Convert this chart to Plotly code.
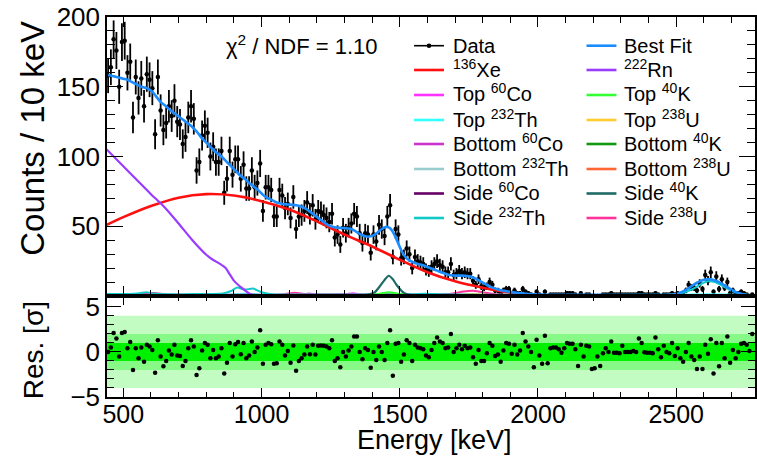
import plotly.graph_objects as go
import math

# ---------------- data ----------------
BIN_LO, BIN_W = 440, 10

counts = [158, 164, 184, 176, 150, 182, 183, 160, 168, 128,
          157, 142, 156, 136, 159, 155, 149, 116, 157, 133,
          119, 124, 136, 129, 140, 125, 123, 109, 114, 128,
          136, 127, 90, 96, 115, 122, 117, 100, 107, 96,
          96, 104, 74, 84, 104, 87, 98, 98, 84, 94,
          77, 77, 90, 78, 81, 95, 61, 78, 78, 76,
          57, 57, 76, 72, 63, 66, 56, 71, 48, 57,
          58, 61, 67, 59, 65, 55, 61, 60, 58, 56,
          53, 59, 42, 44, 37, 49, 45, 49, 52, 59,
          57, 45, 38, 45, 44, 31, 44, 39, 51, 48,
          43, 57, 65, 28, 48, 44, 27, 28, 34, 30,
          20, 28, 25,
          24, 23, 19, 18, 21, 23, 25, 22, 21, 17,
          17, 23, 15, 16, 18, 16, 17, 16, 16, 11,
          8, 12, 7, 6, 7, 10, 8, 4, 4, 2,
          4, 5, 5, 2, 4, 2, 2, 5, 3, 2,
          1, 0, 3, 1, 0, 3, 0, 1, 1, 1,
          1, 1, 1, 2, 2, 2, 1, 0, 2, 0,
          1, 1, 0, 0, 0, 0, 1, 1, 1, 2,
          1, 1, 1, 1, 1, 1, 1, 1, 1, 2,
          2, 1, 1, 1, 1, 2, 1, 0, 1, 1,
          1, 2, 1, 2, 1, 1, 4, 8, 6, 6,
          4, 9, 5, 15, 11, 17, 3, 14, 5, 12,
          6, 10, 2, 4, 2, 2, 3, 2, 1, 0,
          1]

residuals = [0, 0.5, 2.1, 1.5, -0.5, 2.1, 2.2, 0.4, 1.1, -2,
             0.4, -0.7, 0.5, -1.1, 0.8, 0.6, 0.2, -2.3, 1.3, -0.5,
             -1.6, -1, 0.15, -0.3, 0.8, -0.4, -0.45, -1.55, -1, 0.4,
             1.3, 0.6, -2.55, -1.8, 0.15, 1, 0.8, -0.7, 0.2, -0.7,
             -0.5, 0.4, -2.4, -1.2, 1, -0.5, 0.85, 1.1, -0.25, 1,
             -0.7, -0.4, 1.15, 0, 0.5, 2.4, -1.3, 0.8, 1, 0.85,
             -1.3, -1.25, 1.15, 0.8, -0.4, 0.1, -1.2, 0.7, -2.1, -1,
             -0.7, -0.3, 0.6, -0.25, 0.8, -0.3, 0.67, 0.7, 0.67, 0.6,
             0.4, 1.3, -1, -0.7, -1.7, 0, -0.5, 0.15, 0.6, 1.7,
             1.7, 0, -0.8, 0.4, 0.2, -1.75, 0, -0.9, 0.6, 0,
             -0.9, 1, 2.4, -2.65, 0.9, 1, -1.1, -0.3, 1.3, 1,
             -1, 0.8, 0.5,
             0.4, 0.3, -0.4, -0.6, 0.2, 1, 1.6, 1.15, 1, 0.4,
             0.5, 2, 0, 0.4, 0.8, 0.3, 0.67, 0.4, 0.5, -0.6,
             -1.3, 0.2, -1, -1, -0.15, 1, 0.67, -0.45, -0.3, -1.1,
             0.15, 1, 0.9, -0.2, 0.8, -0.3, 0.15, 2.1, 1.15, 0.6,
             0, -1.7, 1.35, -0.4, -1.3, 1.8, -1.25, 0.4, 0.5, 0.5,
             0.3, -0.1, 0.4, 1, 0.9, 0.9, 0.3, -1.55, 0.8, -0.5,
             0.67, 0.6, -1.9, -1.8, -0.5, -1.55, -0.15, 0.4, 0, 1.15,
             -0.1, -0.1, -0.15, 0.67, 0, 0, 0, 0.1, 0, 1.5,
             1, -0.05, -0.1, -0.1, -0.15, 1.6, 0.3, -0.6, 0.67, 0,
             -0.15, 1, -0.45, 0.4, -0.7, -1.1, 0, 1, -0.5, -0.9,
             -1.9, -0.5, -1.9, 0.8, -0.2, 1.4, -2.4, 1, -1.6, 1,
             -0.7, 1.7, -1.2, 0.2, -0.7, 0, 0.9, 1, 0.8, 0.1,
             2]

best_fit = [158.5, 158, 157.5, 157, 156.5, 156, 155.5, 155, 154, 153,
            152, 151, 150, 149.5, 149, 148, 146.5, 144, 141.5, 139,
            137.5, 136, 134, 132.5, 131, 129.5, 128, 126.5, 125, 123.5,
            122, 120, 118, 115.5, 113, 111, 109, 107, 105, 103,
            101.5, 100, 98, 96, 94, 92, 90, 88, 86, 84.5,
            83, 81, 79.5, 78, 76.5, 74.5, 72.5, 71, 70, 69,
            68, 67, 66.5, 66, 65.8, 65.6, 65.5, 65.3, 65, 64.6,
            64, 63, 62, 60.5, 59, 57.5, 56, 54.5, 53, 51.5,
            50.5, 49.8, 49.3, 49, 48.8, 48.7, 48.6, 48.4, 48, 47,
            45.8, 44.5, 43.5, 42.8, 42.5, 42.8, 43.5, 44.8, 46.5, 48,
            49.2, 49.5, 48.5, 46, 42, 37.5, 33, 29.5, 27, 25.5,
            24.5, 23.8, 23, 22.5, 22, 21.2, 20.5, 19.7, 19, 18.2,
            17.4, 16.6, 15.9, 15.3, 14.9, 14.7, 14.6, 14.6, 14.6, 14.5,
            14.3, 13.9, 13.3, 12.4, 11.4, 10.2, 9, 7.9, 6.9, 6,
            5.3, 4.7, 4.2, 3.8, 3.4, 3.1, 2.8, 2.5, 2.2, 2,
            1.8, 1.6, 1.45, 1.3, 1.2, 1.1, 1.0, 0.95, 0.9, 0.85,
            0.8, 0.8, 0.8, 0.8, 0.8, 0.8, 0.8, 0.8, 0.8, 0.8,
            0.8, 0.8, 0.8, 0.8, 0.8, 0.78, 0.78, 0.78, 0.78, 0.78,
            0.76, 0.76, 0.75, 0.75, 0.75, 0.75, 0.74, 0.74, 0.74, 0.73,
            0.72, 0.72, 0.72, 0.71, 0.71, 0.71, 0.7, 0.7, 0.7, 0.7,
            0.7, 0.7, 0.72, 0.8, 0.9, 1.2, 1.7, 2.4, 3.3, 4.4,
            5.6, 7, 8.3, 9.5, 10.5, 11.3, 11.8, 12, 11.9, 11.5,
            10.8, 9.9, 8.8, 7.6, 6.3, 5.1, 4, 3, 2.2, 1.5,
            1, 0.6, 0.4, 0.25]

n_bins = min(len(counts), len(residuals), len(best_fit))
bin_centers = [BIN_LO + BIN_W / 2 + BIN_W * i for i in range(n_bins)]

xe136_E = [440, 500, 600, 700, 800, 900, 1000, 1100, 1200, 1300, 1400, 1500,
           1600, 1700, 1800, 1900, 2000, 2100, 2200, 2300]
xe136_v = [51, 56.5, 64.5, 70.5, 73, 72, 68, 62, 53.5, 44, 35.5, 26,
           17, 10.5, 5.9, 2.3, 0.6, 0.2, 0.05, 0]

rn222_E = [440, 500, 550, 600, 650, 700, 750, 800, 820, 850, 870, 885, 900,
           930, 960, 990, 1010]
rn222_v = [105, 93, 83, 73, 63.5, 52, 40, 29.6, 26.5, 23, 20, 15.5, 11,
           5.6, 1.3, 0.2, 0]

top_co60_E = [440, 1100, 1150, 1173, 1200, 1280, 1310, 1332, 1360, 1450, 2785]
top_co60_v = [0.7, 0.8, 1.3, 1.8, 1.1, 1.0, 1.5, 2.0, 1.0, 0.6, 0.2]
top_th232_E = [440, 560, 583, 610, 890, 911, 969, 1000, 1600, 2400, 2560, 2615, 2680, 2785]
top_th232_v = [0.8, 0.9, 1.3, 0.9, 1.0, 1.5, 1.5, 0.9, 0.8, 0.7, 1.0, 1.3, 1.0, 0.4]
bot_co60_E = [440, 1173, 1332, 1500, 2785]
bot_co60_v = [0.5, 0.8, 0.8, 0.4, 0.2]
bot_th232_E = [440, 1000, 2000, 2785]
bot_th232_v = [0.6, 0.5, 0.4, 0.2]
side_co60_E = [440, 1000, 1500, 2000, 2785]
side_co60_v = [0.45, 0.45, 0.4, 0.35, 0.3]
side_th232_E = [440, 520, 560, 583, 610, 660, 760, 860, 890, 911, 940, 969, 1000, 1040,
                1200, 1400, 1550, 1590, 1650, 1800, 2000, 2200, 2400, 2480, 2520,
                2560, 2590, 2615, 2640, 2670, 2710, 2750, 2785]
side_th232_v = [1.4, 1.4, 2.0, 2.7, 1.8, 1.3, 1.4, 1.8, 3.6, 6, 4.6, 5.3, 2.7, 1.3,
                1.1, 1.0, 1.2, 1.6, 1.2, 0.9, 0.8, 0.8, 0.9, 1.0, 2.2, 5, 8.5, 10.5,
                10, 7, 3, 1.0, 0.5]
top_k40_E = [440, 1380, 1410, 1440, 1460, 1480, 1510, 1540, 2785]
top_k40_v = [0.3, 0.4, 1.0, 2.2, 2.6, 2.2, 1.0, 0.4, 0.1]
top_u238_E = [440, 1700, 1764, 1830, 2785]
top_u238_v = [0.4, 0.6, 1.5, 0.5, 0.1]
bot_k40_E = [440, 1400, 1460, 1520, 2785]
bot_k40_v = [0.3, 0.4, 1.1, 0.4, 0.1]
bot_u238_E = [440, 1764, 2785]
bot_u238_v = [0.35, 0.5, 0.1]
side_k40_E = [440, 1200, 1360, 1390, 1410, 1430, 1445, 1460, 1475, 1490, 1510, 1530, 1560, 2785]
side_k40_v = [0.6, 0.6, 0.6, 1.2, 2.8, 7.5, 11.5, 14.5, 12, 7.5, 3, 1.1, 0.4, 0.1]
side_u238_E = [440, 560, 609, 660, 800, 1000, 1080, 1120, 1160, 1240, 1500, 1680,
               1730, 1764, 1800, 1860, 2000, 2204, 2300, 2785]
side_u238_v = [0.9, 1.1, 2.2, 1.1, 0.9, 0.9, 1.3, 2.4, 1.3, 1.1, 1.0, 1.5,
               3.2, 3.8, 2.7, 1.0, 0.6, 0.8, 0.5, 0.2]

chi2_text = "χ<sup>2</sup> / NDF = 1.10"

# ---------------- figure ----------------
W, H = 757, 458
L, R, T, B = 107, 757, 17, 397
SPLIT = 296
FONT = "Liberation Sans, Arial, Helvetica, sans-serif"


def px(x):
    return (x - L) / (R - L)


def py(y):
    return (B - y) / (B - T)


fig = go.Figure()

# data
errs = [math.sqrt(c) for c in counts[:n_bins]]
fig.add_trace(go.Scatter(
    x=bin_centers, y=counts[:n_bins], mode="markers",
    marker=dict(color="black", size=4.5),
    error_y=dict(type="data", array=errs, color="black", thickness=1.8, width=0),
    error_x=dict(type="constant", value=BIN_W / 2, color="black", thickness=1.2, width=0),
    xaxis="x", yaxis="y", showlegend=False))

components = [
    ("136Xe", xe136_E, xe136_v, "#ff1010", 2.6),
    ("Top 60Co", top_co60_E, top_co60_v, "#ff33ff", 2),
    ("Top 232Th", top_th232_E, top_th232_v, "#33ffff", 2),
    ("Bottom 60Co", bot_co60_E, bot_co60_v, "#cc33cc", 2),
    ("Bottom 232Th", bot_th232_E, bot_th232_v, "#99cccc", 2),
    ("Side 60Co", side_co60_E, side_co60_v, "#660066", 2),
    ("Top 238U", top_u238_E, top_u238_v, "#ffcc33", 2),
    ("Bottom 40K", bot_k40_E, bot_k40_v, "#119911", 2),
    ("Bottom 238U", bot_u238_E, bot_u238_v, "#ff6633", 2),
    ("Side 238U", side_u238_E, side_u238_v, "#ff3399", 2),
    ("Side 232Th", side_th232_E, side_th232_v, "#11c8c8", 2),
    ("222Rn", rn222_E, rn222_v, "#9a3cff", 2.2),
    ("Top 40K", top_k40_E, top_k40_v, "#33ff33", 2),
    ("Side 40K", side_k40_E, side_k40_v, "#1f6b66", 2.2),
]
for name, e, v, col, w in components:
    fig.add_trace(go.Scatter(x=e, y=v, mode="lines",
                             line=dict(color=col, width=w, shape="spline", smoothing=0.6),
                             xaxis="x", yaxis="y", showlegend=False, name=name))

fig.add_trace(go.Scatter(x=bin_centers, y=best_fit[:n_bins], mode="lines",
                         line=dict(color="#1a8cff", width=2.6, shape="spline", smoothing=0.5),
                         xaxis="x", yaxis="y", showlegend=False, name="Best Fit"))

# residuals
fig.add_trace(go.Scatter(x=bin_centers, y=residuals[:n_bins], mode="markers",
                         marker=dict(color="black", size=4.5),
                         xaxis="x2", yaxis="y2", showlegend=False))

XR = [441, 2785]
shapes = []
for half, col in [(4, "#c2fcc2"), (2, "#86f986"), (1, "#00f000")]:
    shapes.append(dict(type="rect", xref="x2", yref="y2", x0=XR[0], x1=XR[1],
                       y0=-half, y1=half, fillcolor=col, line=dict(width=0), layer="below"))

# legend drawn manually
rows_y = [45.7, 70, 95, 120, 144, 169, 193.5, 218]
col1 = [("Data", "black"), ("<sup>136</sup>Xe", "#ff1010"), ("Top <sup>60</sup>Co", "#ff33ff"),
        ("Top <sup>232</sup>Th", "#33ffff"), ("Bottom <sup>60</sup>Co", "#cc33cc"),
        ("Bottom <sup>232</sup>Th", "#99cccc"), ("Side <sup>60</sup>Co", "#660066"),
        ("Side <sup>232</sup>Th", "#11c8c8")]
col2 = [("Best Fit", "#1a8cff"), ("<sup>222</sup>Rn", "#9a3cff"), ("Top <sup>40</sup>K", "#33ff33"),
        ("Top <sup>238</sup>U", "#ffcc33"), ("Bottom <sup>40</sup>K", "#119911"),
        ("Bottom <sup>238</sup>U", "#ff6633"), ("Side <sup>40</sup>K", "#1f6b66"),
        ("Side <sup>238</sup>U", "#ff3399")]
annotations = []
for entries, lx0, lx1, tx in [(col1, 415, 445, 452), (col2, 588, 618, 624)]:
    for (label, col), yy in zip(entries, rows_y):
        shapes.append(dict(type="line", xref="paper", yref="paper", x0=px(lx0), x1=px(lx1),
                           y0=py(yy), y1=py(yy),
                           line=dict(color=col, width=1.6 if label == "Data" else 2.6)))
        if label == "Data":
            shapes.append(dict(type="circle", xref="paper", yref="paper", xsizemode="pixel",
                               ysizemode="pixel", xanchor=px((lx0 + lx1) / 2), yanchor=py(yy),
                               x0=-2.3, x1=2.3, y0=-2.3, y1=2.3, fillcolor="black",
                               line=dict(color="black", width=0)))
        sup_shift = 2 if "<sup>" in label else 0
        annotations.append(dict(text=label, xref="paper", yref="paper", x=px(tx),
                                y=py(yy - sup_shift), xanchor="left", yanchor="middle",
                                showarrow=False, font=dict(size=20, color="black", family=FONT)))

annotations.append(dict(text=chi2_text, xref="paper", yref="paper", x=px(303), y=py(45),
                        xanchor="center", yanchor="middle", showarrow=False,
                        font=dict(size=22, color="black", family=FONT)))
annotations.append(dict(text="Counts / 10 keV", textangle=-90, xref="paper", yref="paper",
                        x=px(32), y=py(19), xanchor="center", yanchor="top", showarrow=False,
                        font=dict(size=33, color="black", family=FONT)))
annotations.append(dict(text="Res. [σ]", textangle=-90, xref="paper", yref="paper",
                        x=px(33), y=py(299), xanchor="center", yanchor="top", showarrow=False,
                        font=dict(size=28, color="black", family=FONT)))
annotations.append(dict(text="Energy [keV]", xref="paper", yref="paper",
                        x=px(436), y=py(457), xanchor="center", yanchor="bottom", showarrow=False,
                        font=dict(size=27, color="black", family=FONT)))

split = (B - SPLIT) / (B - T)
axis_common = dict(showline=True, linecolor="black", linewidth=1.5, mirror="ticks",
                   ticks="inside", tickcolor="black", tickwidth=1.2, showgrid=False,
                   zeroline=False)
tf = dict(size=26, color="black", family=FONT)

fig.update_layout(
    width=W, height=H, margin=dict(l=L, r=W - R, t=T, b=H - B),
    paper_bgcolor="white", plot_bgcolor="white", showlegend=False,
    xaxis=dict(domain=[0, 1], anchor="y", range=XR, showticklabels=False,
               tickmode="array", tickvals=[500, 1000, 1500, 2000, 2500], ticklen=10,
               minor=dict(ticks="inside", ticklen=6, tickmode="linear", tick0=0, dtick=100,
                          tickcolor="black", tickwidth=1.2),
               tickfont=tf, **axis_common),
    yaxis=dict(domain=[split, 1], anchor="x", range=[0, 200],
               tickmode="array", tickvals=[0, 50, 100, 150, 200],
               ticktext=["", "50", "100", "150", "200"], ticklen=16,
               minor=dict(ticks="inside", ticklen=8, tickmode="linear", tick0=0, dtick=10,
                          tickcolor="black", tickwidth=1.2),
               tickfont=tf, **axis_common),
    xaxis2=dict(domain=[0, 1], anchor="y2", range=XR, matches="x",
                tickmode="array", tickvals=[500, 1000, 1500, 2000, 2500], ticklen=9,
                ticklabelstandoff=-6,
                minor=dict(ticks="inside", ticklen=5, tickmode="linear", tick0=0, dtick=100,
                           tickcolor="black", tickwidth=1.2),
                tickfont=dict(size=25, color="black", family=FONT), **axis_common),
    yaxis2=dict(domain=[0, split], anchor="x2", range=[-5, 6.2],
                tickmode="array", tickvals=[-5, 0, 5], ticklen=14,
                minor=dict(ticks="inside", ticklen=7, tickmode="linear", tick0=0, dtick=1,
                           tickcolor="black", tickwidth=1.2),
                tickfont=tf, **axis_common),
    shapes=shapes, annotations=annotations,
    font=dict(family=FONT, color="black"),
)

fig.write_html("out.html")
